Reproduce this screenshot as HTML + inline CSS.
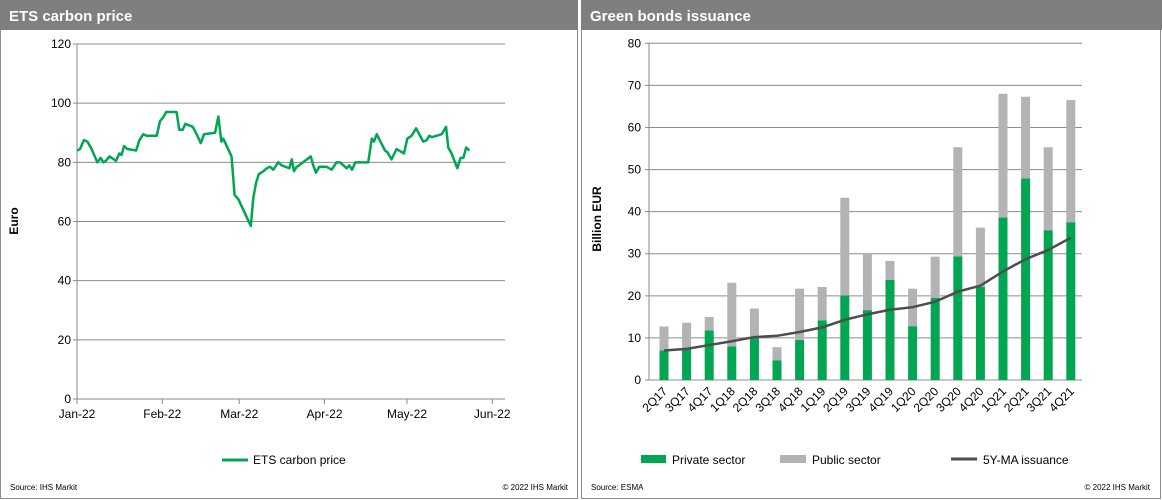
<!DOCTYPE html>
<html><head><meta charset="utf-8"><style>
body{margin:0;background:#fff;font-family:"Liberation Sans",Arial,sans-serif;}
svg{display:block}
</style></head><body>
<svg width="1162" height="500" xmlns="http://www.w3.org/2000/svg" font-family="Liberation Sans, Arial, sans-serif">
<g>
<rect x="0.5" y="0.5" width="577" height="498" fill="#fff" stroke="#8c8c8c"/>
<rect x="0" y="0" width="578" height="30" fill="#7f7f7f"/>
<text x="9" y="21" fill="#fff" font-size="15" font-weight="bold">ETS carbon price</text>
<g id="lg"></g>
<text x="18" y="221" transform="rotate(-90 18 221)" font-size="12" font-weight="bold" text-anchor="middle">Euro</text>
<line x1="222" y1="460" x2="248" y2="460" stroke="#00a651" stroke-width="3"/>
<text x="253" y="464" font-size="12">ETS carbon price</text>
<text x="10" y="490" font-size="8">Source:  IHS Markit</text>
<text x="568" y="490" font-size="8" text-anchor="end">© 2022  IHS Markit</text>
</g>
<g>
<rect x="581.5" y="0.5" width="579" height="498" fill="#fff" stroke="#8c8c8c"/>
<rect x="581" y="0" width="581" height="30" fill="#7f7f7f"/>
<text x="590" y="21" fill="#fff" font-size="15" font-weight="bold">Green bonds issuance</text>
<g id="rg"></g>
<text x="601" y="219" transform="rotate(-90 601 219)" font-size="12" font-weight="bold" text-anchor="middle">Billion EUR</text>
<rect x="641" y="455" width="25" height="8" fill="#00a651"/>
<text x="672" y="464" font-size="12">Private sector</text>
<rect x="780" y="455" width="26" height="8" fill="#b3b3b5"/>
<text x="812" y="464" font-size="12">Public sector</text>
<line x1="951" y1="459" x2="977" y2="459" stroke="#4d4d4d" stroke-width="3"/>
<text x="983" y="464" font-size="12">5Y-MA issuance</text>
<text x="591" y="490" font-size="8">Source:  ESMA</text>
<text x="1150" y="490" font-size="8" text-anchor="end">© 2022  IHS Markit</text>
</g>
</svg>
<script>
const etsDays=[0.1,1.1,2.5,3.8,5.3,7.4,8.6,9.6,10.5,11.8,14.2,15.4,16.2,17.1,18.3,21.5,22.7,24.1,25.3,29,30.2,31.2,32.4,36.2,37.2,38.4,39.4,42.1,43.5,45,46.2,50.2,51.4,52.5,53.2,56.2,57.3,58.7,63.2,64.1,65.1,66.1,67.8,69,70.2,71.4,73.2,74.4,77.2,78.1,78.9,79.9,80.8,85,85.9,86.9,88.1,90.8,92.6,94.4,95.6,98.1,99,100,101.2,105.9,107.2,108,109,112,112.8,114.4,116.2,118.9,120.1,121.7,123.3,125.9,127.2,128.1,129.1,132.6,134.2,135,136.2,138.3,139.5,140.5,141.5,142.7];
const etsValues=[84,84.5,87.5,87,84.5,80,81.5,80,80.5,82,80.5,83,82.5,85.5,84.5,84,87.5,89.5,89,89,94,95,97,97,91,91,93,92,89.5,86.5,89.5,90,95.5,87,88,82,69,67.5,58.5,68,73,76,77,78,78.5,77.5,80,79,78,81,77,78.5,79,82,79,76.5,78.5,78.5,77.5,80,80,78,79,77.5,80,80,88,87,89.5,84,83.5,81,84.5,83,88,89,91.5,87,87.5,89,88.5,89.5,92,85,83,78,81.5,81.5,85,84];
const leftYTicks=[0,20,40,60,80,100,120];
const monthLabels=["Jan-22","Feb-22","Mar-22","Apr-22","May-22","Jun-22"];
const monthDays=[0,31,59,90,120,151];

const quarters=["2Q17","3Q17","4Q17","1Q18","2Q18","3Q18","4Q18","1Q19","2Q19","3Q19","4Q19","1Q20","2Q20","3Q20","4Q20","1Q21","2Q21","3Q21","4Q21"];
const privateSector=[7,7.3,11.8,8,10,4.7,9.5,14.2,20.1,16.6,23.8,12.8,19.5,29.4,22.1,38.6,47.9,35.6,37.5];
const publicSector=[5.7,6.3,3.2,15.1,7,3.1,12.2,7.9,23.2,13.6,4.5,8.9,9.8,25.9,14.1,29.4,19.4,19.7,29];
const maIssuance=[7,7.4,8.3,9.2,10.2,10.5,11.4,12.5,14.3,15.6,16.7,17.3,18.6,21,22.4,25.8,28.7,30.9,33.8];
const rightYTicks=[0,10,20,30,40,50,60,70,80];

const NS="http://www.w3.org/2000/svg";
function mk(p,t,a){const e=document.createElementNS(NS,t);for(const k in a)e.setAttribute(k,a[k]);p.appendChild(e);return e;}

// left chart
const lg=document.getElementById('lg');
const lx0=77,lx1=505,ly0=399,ly1=44;
const lxs=d=>lx0+d*2.75;
const lys=v=>ly0-(v/120)*(ly0-ly1);
leftYTicks.forEach(v=>{
  const l=mk(lg,'line',{x1:lx0-4,x2:lx1,y1:lys(v),y2:lys(v),stroke:v===0?'#888':'#8c8c8c','stroke-width':1});
  
  
  const t=mk(lg,'text',{x:lx0-6,y:lys(v)+4,'font-size':12,'text-anchor':'end'});t.textContent=v;
  
  
});
const ax=mk(lg,'line',{x1:lx0,x2:lx0,y1:ly1,y2:ly0,stroke:'#888'});


monthDays.forEach((d,i)=>{
  const tk=mk(lg,'line',{x1:lxs(d),x2:lxs(d),y1:ly0,y2:ly0+5,stroke:'#888'});
  
  
  const t=mk(lg,'text',{x:lxs(d),y:ly0+19,'font-size':12,'text-anchor':'middle'});t.textContent=monthLabels[i];
  
  
});
const pl=mk(lg,'polyline',{points:etsDays.map((d,i)=>lxs(d)+','+lys(etsValues[i])).join(' '),fill:'none',stroke:'#00a651','stroke-width':2.5,'stroke-linejoin':'round'});



// right chart
const rg=document.getElementById('rg');
const rx0=649,rx1=1082,ry0=380,ry1=43.3,band=22.6,first=664;
const rys=v=>ry0-(v/80)*(ry0-ry1);
const cx=i=>first+i*band;
rightYTicks.forEach(v=>{
  const l=mk(rg,'line',{x1:rx0-4,x2:rx1,y1:rys(v),y2:rys(v),stroke:'#8c8c8c'});
  
  
  const t=mk(rg,'text',{x:rx0-8,y:rys(v)+4,'font-size':12,'text-anchor':'end'});t.textContent=v;
  
  
});
const rax=mk(rg,'line',{x1:rx0,x2:rx0,y1:ry1,y2:ry0,stroke:'#888'});


quarters.forEach((q,i)=>{
  const x=cx(i);
  const b1=mk(rg,'rect',{x:x-4.5,y:rys(privateSector[i]),width:9,height:ry0-rys(privateSector[i]),fill:'#00a651'});
  
  
  const top=privateSector[i]+publicSector[i];
  const b2=mk(rg,'rect',{x:x-4.5,y:rys(top),width:9,height:rys(privateSector[i])-rys(top),fill:'#b3b3b5'});
  
  
  const t=mk(rg,'text',{x:x+4,y:ry0+12,'font-size':12,'text-anchor':'end',transform:`rotate(-45 ${x+4} ${ry0+12})`});t.textContent=q;
  
  
});
const ma=mk(rg,'polyline',{points:maIssuance.map((v,i)=>cx(i)+','+rys(v)).join(' '),fill:'none',stroke:'#4d4d4d','stroke-width':2.5,'stroke-linejoin':'round'});


</script>
</body></html>
